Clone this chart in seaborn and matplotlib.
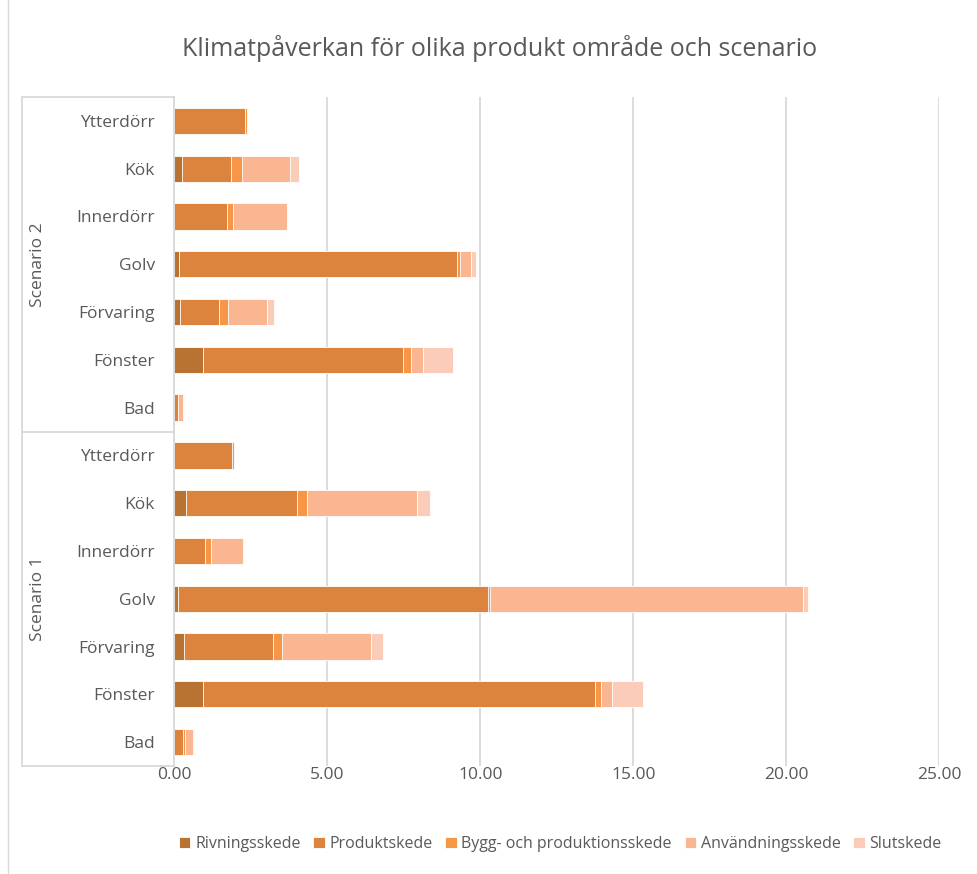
import matplotlib
matplotlib.use("Agg")
import matplotlib.pyplot as plt
import seaborn as sns
import pandas as pd
import numpy as np

products = ["Ytterdörr", "Kök", "Innerdörr", "Golv", "Förvaring", "Fönster", "Bad"]
scenarios = ["Scenario 2", "Scenario 1"]
stages = ["Rivningsskede", "Produktskede", "Bygg- och produktionsskede",
          "Användningsskede", "Slutskede"]
colors = ["#B87333", "#DC843E", "#F79646", "#F9B691", "#FBCDB9"]

# Scenario 2 (top block), order as products
s2_rivning    = [0.00, 0.26, 0.00, 0.16, 0.19, 0.94, 0.00]
s2_produkt    = [2.31, 1.58, 1.73, 9.08, 1.28, 6.52, 0.11]
s2_bygg       = [0.05, 0.37, 0.18, 0.11, 0.28, 0.27, 0.02]
s2_anvandning = [0.00, 1.57, 1.77, 0.35, 1.26, 0.40, 0.14]
s2_slut       = [0.00, 0.30, 0.00, 0.16, 0.24, 0.98, 0.03]

# Scenario 1 (bottom block)
s1_rivning    = [0.00, 0.37, 0.00, 0.11, 0.32, 0.94, 0.00]
s1_produkt    = [1.88, 3.63, 0.99, 10.13, 2.91, 12.81, 0.27]
s1_bygg       = [0.05, 0.33, 0.20, 0.09, 0.29, 0.19, 0.06]
s1_anvandning = [0.00, 3.60, 1.04, 10.22, 2.91, 0.38, 0.27]
s1_slut       = [0.00, 0.44, 0.00, 0.17, 0.38, 1.00, 0.05]

xticks = [0, 5, 10, 15, 20, 25]

W, H = 978, 874
fig = plt.figure(figsize=(W / 100, H / 100), dpi=100)
sns.set_style("white")
plt.rcParams["font.family"] = ["Open Sans", "DejaVu Sans"]
txt = "#595959"

rows = []
keys = []
for sc, data in zip(scenarios, [
        [s2_rivning, s2_produkt, s2_bygg, s2_anvandning, s2_slut],
        [s1_rivning, s1_produkt, s1_bygg, s1_anvandning, s1_slut]]):
    for i, p in enumerate(products):
        key = f"{sc}|{p}"
        keys.append(key)
        for st, vals in zip(stages, data):
            rows.append({"key": key, "stage": st, "value": vals[i]})
df = pd.DataFrame(rows)
wide = df.pivot(index="key", columns="stage", values="value").loc[keys, stages]
cum = wide.cumsum(axis=1)

left = 174.5 / W
right = 939 / W
top = 1 - 97 / H
bottom = 1 - 766 / H
ax = fig.add_axes([left, bottom, right - left, top - bottom])

for st, col in reversed(list(zip(stages, colors))):
    d = pd.DataFrame({"key": keys, "total": cum[st].values})
    sns.barplot(data=d, y="key", x="total", order=keys, color=col,
                width=0.55, ax=ax, saturation=1, edgecolor="white",
                linewidth=0.6, label=st)

handles, labels = ax.get_legend_handles_labels()
if ax.get_legend() is not None:
    ax.get_legend().remove()

ax.set_xlim(0, 25)
ax.set_ylim(len(keys) - 0.5, -0.5)
ax.set_xticks(xticks)
ax.set_xticklabels([f"{v:.2f}" for v in xticks], color=txt, fontsize=12.5)
ax.set_yticks(range(len(keys)))
ax.set_yticklabels([k.split("|")[1] for k in keys], color=txt, fontsize=12.5)
ax.tick_params(axis="y", length=0, pad=14)
ax.tick_params(axis="x", length=0, pad=1)
ax.set_xlabel("")
ax.set_ylabel("")
ax.xaxis.grid(True, color="#D9D9D9", linewidth=1.3)
ax.set_axisbelow(True)
for s in ["top", "right", "bottom"]:
    ax.spines[s].set_visible(False)
ax.spines["left"].set_color("#D9D9D9")
ax.spines["left"].set_linewidth(1.3)

# nested category brackets
bx = -(174.5 - 22) / (939 - 174.5)
lk = dict(color="#D9D9D9", linewidth=1.3, transform=ax.transAxes, clip_on=False)
ax.plot([bx, bx], [0, 1], **lk)
for yy in [0, 0.5, 1]:
    ax.plot([bx, 0], [yy, yy], **lk)
for sc, yc in zip(scenarios, [0.75, 0.25]):
    ax.text((38 - 174.5) / (939 - 174.5), yc, sc, rotation=90, ha="center",
            va="center", color=txt, fontsize=12.5, transform=ax.transAxes)

fig.suptitle("Klimatpåverkan för olika produkt område och scenario",
             x=0.511, y=1 - 48 / H, va="center", color=txt, fontsize=18)

order = [labels.index(s) for s in stages]
fig.legend([handles[i] for i in order], [labels[i] for i in order],
           loc="center", bbox_to_anchor=(0.573, 1 - 844 / H), ncol=5,
           frameon=False, handlelength=0.7, handleheight=0.7,
           handletextpad=0.3, columnspacing=0.8, fontsize=11.5,
           labelcolor=txt)

fig.patches.append(plt.Rectangle((8 / W, -0.01), 1.1, 1.02, transform=fig.transFigure,
                                 fill=False, edgecolor="#D9D9D9", linewidth=1))
fig.savefig("out.png", dpi=100)
